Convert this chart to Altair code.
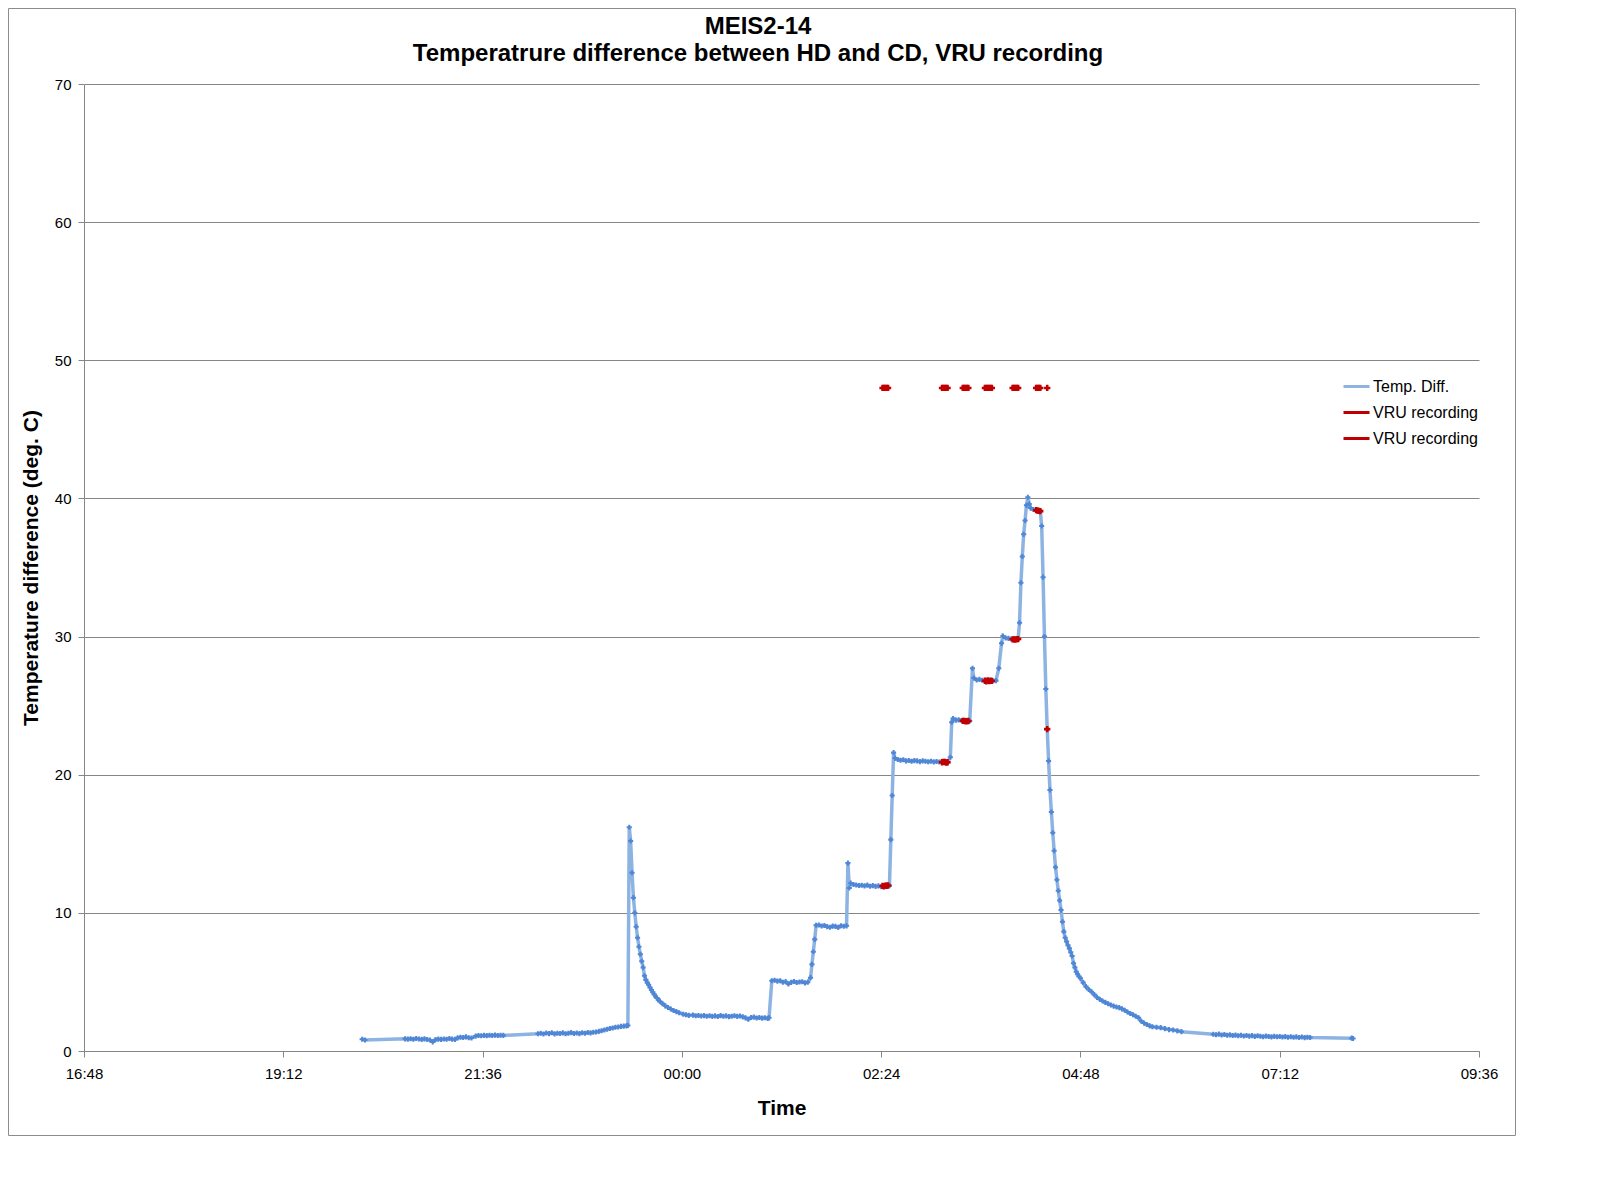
import altair as alt
import pandas as pd

TITLE_1 = "MEIS2-14"
TITLE_2 = "Temperatrure difference between HD and CD, VRU recording"
X_TITLE = "Time"
Y_TITLE = "Temperature difference (deg. C)"
SERIES = ["Temp. Diff.", "VRU recording", "VRU recording "]

X_TICKS = ["16:48", "19:12", "21:36", "00:00", "02:24", "04:48", "07:12", "09:36"]
Y_TICKS = [0, 10, 20, 30, 40, 50, 60, 70]

TEMP_TIMES = [
    "20:09", "20:11",
    "20:40", "20:42", "20:44", "20:46", "20:48", "20:50", "20:52", "20:54", "20:56", "20:58",
    "21:00", "21:02", "21:04", "21:06", "21:08", "21:10", "21:12", "21:14", "21:16", "21:18",
    "21:20", "21:22", "21:24", "21:26", "21:28", "21:31", "21:33", "21:35", "21:37", "21:39",
    "21:41", "21:43", "21:45", "21:47", "21:49", "21:51",
    "22:16", "22:18", "22:20", "22:22", "22:24", "22:26", "22:28", "22:30", "22:32", "22:34",
    "22:36", "22:38", "22:40", "22:42", "22:44", "22:46", "22:48", "22:50", "22:52", "22:54",
    "22:56", "22:58", "23:00", "23:02", "23:04", "23:06", "23:08", "23:10", "23:12", "23:14",
    "23:16", "23:18", "23:20", "23:21",
    "23:22", "23:23", "23:24", "23:25", "23:26", "23:27", "23:28", "23:29", "23:30", "23:31",
    "23:32", "23:33", "23:34", "23:35", "23:36", "23:37", "23:38", "23:39", "23:40", "23:41",
    "23:42", "23:43", "23:44", "23:46", "23:48", "23:50", "23:52", "23:54", "23:56", "23:58",
    "00:01", "00:03", "00:05", "00:08", "00:10", "00:12", "00:14", "00:16", "00:18", "00:20",
    "00:22", "00:24", "00:26", "00:28", "00:30", "00:32", "00:34", "00:36", "00:38", "00:40",
    "00:42", "00:44", "00:46", "00:48", "00:50", "00:52", "00:54", "00:56", "00:58", "01:00",
    "01:02", "01:03",
    "01:05", "01:07", "01:09", "01:11", "01:13", "01:15", "01:17", "01:19", "01:21", "01:23",
    "01:25", "01:27", "01:29", "01:31", "01:33", "01:34", "01:35", "01:36",
    "01:37", "01:39", "01:41", "01:43", "01:45", "01:47", "01:49", "01:51", "01:53", "01:55",
    "01:57", "01:59",
    "02:00", "02:01", "02:02", "02:04", "02:06", "02:08", "02:10", "02:12", "02:14", "02:16",
    "02:18", "02:20", "02:22", "02:24", "02:26", "02:28", "02:30", "02:31", "02:32",
    "02:33", "02:34", "02:36", "02:38", "02:40", "02:42", "02:44", "02:46", "02:48", "02:50",
    "02:52", "02:54", "02:56", "02:58", "03:00", "03:02", "03:04", "03:06", "03:08", "03:10",
    "03:12", "03:14",
    "03:15", "03:16", "03:18", "03:20", "03:22", "03:24", "03:26", "03:28",
    "03:30", "03:31", "03:33", "03:35", "03:37", "03:39", "03:41", "03:43", "03:45", "03:47",
    "03:49", "03:51", "03:52", "03:54", "03:56", "03:58", "04:00", "04:02", "04:03",
    "04:04", "04:05", "04:06", "04:07", "04:08", "04:09", "04:10", "04:11", "04:12", "04:14",
    "04:16", "04:18", "04:19",
    "04:20", "04:21", "04:22", "04:23", "04:24", "04:25", "04:26", "04:27", "04:28", "04:29",
    "04:30", "04:31", "04:32", "04:33", "04:34", "04:35", "04:36", "04:37", "04:38", "04:39",
    "04:40", "04:41", "04:42", "04:43", "04:44", "04:45", "04:46", "04:47", "04:48", "04:50",
    "04:52", "04:54", "04:56", "04:58", "05:00", "05:02", "05:04", "05:06", "05:08", "05:10",
    "05:12", "05:14", "05:16", "05:18", "05:20", "05:22", "05:24", "05:26", "05:28", "05:30",
    "05:32", "05:34", "05:36", "05:38", "05:40", "05:43", "05:46", "05:49", "05:52", "05:55",
    "05:58", "06:01",
    "06:24", "06:26", "06:28", "06:30", "06:32", "06:34", "06:36", "06:38", "06:40", "06:42",
    "06:44", "06:46", "06:48", "06:50", "06:52", "06:54", "06:56", "06:58", "07:00", "07:02",
    "07:04", "07:06", "07:08", "07:10", "07:12", "07:14", "07:16", "07:18", "07:20", "07:22",
    "07:24", "07:26", "07:28", "07:30", "07:32", "07:34",
    "08:04", "08:05",
]

TEMP_VALUES = [
    0.85, 0.80,
    0.88, 0.86, 0.89, 0.85, 0.90, 0.87, 0.84, 0.88, 0.83, 0.80,
    0.66, 0.82, 0.86, 0.84, 0.87, 0.85, 0.90, 0.86, 0.84, 0.95,
    1.00, 0.98, 1.02, 0.96, 0.94, 1.08, 1.12, 1.10, 1.13, 1.11,
    1.14, 1.12, 1.15, 1.12, 1.14, 1.13,
    1.25, 1.28, 1.23, 1.30, 1.26, 1.32, 1.24, 1.29, 1.27, 1.31,
    1.25, 1.28, 1.33, 1.27, 1.30, 1.26, 1.32, 1.29, 1.34, 1.31,
    1.36, 1.38, 1.42, 1.47, 1.52, 1.57, 1.63, 1.66, 1.72, 1.74,
    1.78, 1.80, 1.82, 1.85,
    16.2, 15.2, 12.9, 11.1, 10.0, 9.0, 8.2, 7.55, 7.0, 6.5,
    6.05, 5.45, 5.15, 4.95, 4.8, 4.6, 4.42, 4.25, 4.1, 3.95,
    3.83, 3.72, 3.6, 3.43, 3.27, 3.15, 3.04, 2.93, 2.85, 2.77,
    2.66, 2.62, 2.58, 2.60, 2.55, 2.57, 2.53, 2.56, 2.52, 2.55,
    2.51, 2.54, 2.50, 2.56, 2.52, 2.54, 2.49, 2.52, 2.55, 2.51,
    2.53, 2.47, 2.40, 2.30, 2.42, 2.45, 2.39, 2.43, 2.38, 2.41,
    2.36, 2.40,
    5.09, 5.12, 5.06, 5.08, 4.98, 5.02, 4.85, 4.97, 5.03, 4.96,
    4.99, 5.01, 4.93, 4.98, 5.31, 6.27, 7.19, 8.08,
    9.10, 9.12, 9.05, 9.08, 9.00, 8.96, 9.04, 9.02, 8.95, 9.07,
    9.03, 9.06,
    13.6, 11.8, 12.15, 12.05, 12.02, 11.98, 12.0, 11.95, 12.01, 11.93,
    11.97, 11.92, 11.95, 11.9, 11.92, 11.96, 11.97, 15.3, 18.5,
    21.6, 21.2, 21.1, 21.05, 21.08, 21.0, 21.03, 20.98, 21.02, 21.0,
    20.95, 21.0, 20.97, 20.94, 20.98, 20.93, 20.96, 20.92, 20.9, 20.92,
    20.9, 21.26,
    23.8, 24.06, 23.95, 23.97, 23.92, 23.9, 23.88, 23.89,
    27.7, 27.0, 26.86, 26.9, 26.84, 26.8, 26.82, 26.78, 26.8, 26.81,
    27.7, 29.51, 30.04, 29.9, 29.87, 29.82, 29.8, 29.8, 29.82,
    31.0, 33.9, 35.8, 37.4, 38.4, 39.5, 40.08, 39.6, 39.3, 39.2,
    39.15, 39.1, 39.08,
    38.0, 34.3, 30.0, 26.2, 23.3, 21.0, 18.9, 17.3, 15.8, 14.5,
    13.3, 12.4, 11.6, 10.9, 10.2, 9.36, 8.64, 8.2, 7.92, 7.65,
    7.43, 7.15, 6.88, 6.35, 6.05, 5.74, 5.55, 5.4, 5.26, 4.95,
    4.66, 4.45, 4.29, 4.08, 3.88, 3.74, 3.62, 3.52, 3.42, 3.33,
    3.25, 3.19, 3.14, 3.05, 2.95, 2.82, 2.72, 2.62, 2.52, 2.40,
    2.15, 2.02, 1.92, 1.82, 1.76, 1.72, 1.69, 1.62, 1.55, 1.52,
    1.46, 1.40,
    1.21, 1.18, 1.22, 1.16, 1.19, 1.14, 1.17, 1.12, 1.15, 1.10,
    1.14, 1.09, 1.12, 1.08, 1.11, 1.06, 1.10, 1.07, 1.03, 1.08,
    1.05, 1.02, 1.06, 1.03, 1.05, 1.01, 1.04, 1.00, 1.03, 0.99,
    1.02, 0.98, 1.01, 0.97, 1.00, 0.98,
    0.93, 0.91,
]

# VRU recording points on the temperature curve (one group per recording)
VRU_TIMES = [
    "02:25", "02:26", "02:27", "02:28", "02:29",
    "03:08", "03:09", "03:10", "03:11", "03:12",
    "03:23", "03:24", "03:25", "03:26", "03:27",
    "03:39", "03:40", "03:41", "03:42", "03:43", "03:44",
    "03:59", "04:00", "04:01", "04:02", "04:03",
    "04:16", "04:17", "04:18", "04:19",
    "04:24",
]
VRU_VALUES = [
    11.95, 11.92, 11.97, 11.96, 11.98,
    20.9, 20.93, 20.92, 20.88, 20.9,
    23.9, 23.9, 23.87, 23.88, 23.89,
    26.8, 26.76, 26.82, 26.78, 26.8, 26.79,
    29.8, 29.8, 29.78, 29.81, 29.82,
    39.15, 39.12, 39.1, 39.08,
    23.3,
]
VRU_GROUP = [
    1, 1, 1, 1, 1,
    2, 2, 2, 2, 2,
    3, 3, 3, 3, 3,
    4, 4, 4, 4, 4, 4,
    5, 5, 5, 5, 5,
    6, 6, 6, 6,
    7,
]

# VRU recording markers drawn at the 48 level
VRU_TOP_TIMES = [
    "02:25", "02:26", "02:27", "02:28", "02:29",
    "03:08", "03:09", "03:10", "03:11", "03:12",
    "03:23", "03:24", "03:25", "03:26", "03:27",
    "03:39", "03:40", "03:41", "03:42", "03:43", "03:44",
    "03:59", "04:00", "04:01", "04:02", "04:03",
    "04:16", "04:17", "04:18", "04:19",
    "04:24",
]
VRU_TOP_VALUES = [
    48, 48, 48, 48, 48,
    48, 48, 48, 48, 48,
    48, 48, 48, 48, 48,
    48, 48, 48, 48, 48, 48,
    48, 48, 48, 48, 48,
    48, 48, 48, 48,
    48,
]

BLUE_LINE = "#8DB3E2"
BLUE_MARK = "#4F86D6"
RED = "#C00000"
GRID = "#868686"
FONT = "Liberation Sans"


def to_dt(s):
    h, m = (int(p) for p in s.split(":"))
    day = 1 if h >= 12 else 2
    return pd.Timestamp(2012, 1, day, h, m)


def to_datetime_obj(s):
    h, m = (int(p) for p in s.split(":"))
    day = 1 if h >= 12 else 2
    return alt.DateTime(year=2012, month=1, date=day, hours=h, minutes=m)


temp_df = pd.DataFrame({
    "time": [to_dt(t) for t in TEMP_TIMES],
    "value": TEMP_VALUES,
    "series": SERIES[0],
})
vru_df = pd.DataFrame({
    "time": [to_dt(t) for t in VRU_TIMES],
    "value": VRU_VALUES,
    "grp": VRU_GROUP,
    "series": SERIES[1],
})
top_df = pd.DataFrame({
    "time": [to_dt(t) for t in VRU_TOP_TIMES],
    "value": VRU_TOP_VALUES,
    "grp": VRU_GROUP,
    "series": SERIES[2],
})

W, H = 1395, 967

x_enc = alt.X(
    "time:T",
    scale=alt.Scale(domain=[to_datetime_obj(X_TICKS[0]), to_datetime_obj(X_TICKS[-1])]),
    axis=alt.Axis(
        values=[to_datetime_obj(t) for t in X_TICKS],
        format="%H:%M",
        title=X_TITLE,
        grid=False,
        titleY=57,
        titleBaseline="middle",
        labelFlush=False,
        labelOverlap=False,
        labelPadding=9,
        labelFont=FONT,
        labelFontSize=15,
        labelColor="#000000",
        titleFont=FONT,
        titleFontSize=21,
        titleFontWeight="bold",
        titleColor="#000000",
        domainColor=GRID,
        tickColor=GRID,
        tickSize=6,
    ),
)
y_enc = alt.Y(
    "value:Q",
    scale=alt.Scale(domain=[0, 70], nice=False),
    axis=alt.Axis(
        values=Y_TICKS,
        title=Y_TITLE,
        grid=True,
        gridColor=GRID,
        gridOpacity=1,
        titleX=-53,
        titleBaseline="middle",
        labelPadding=7,
        labelFlush=False,
        labelOverlap=False,
        labelFont=FONT,
        labelFontSize=15,
        labelColor="#000000",
        titleFont=FONT,
        titleFontSize=21,
        titleFontWeight="bold",
        titleColor="#000000",
        domainColor=GRID,
        tickColor=GRID,
        tickSize=6,
    ),
)
color_enc = alt.Color(
    "series:N",
    scale=alt.Scale(domain=SERIES, range=[BLUE_LINE, RED, RED]),
    legend=alt.Legend(
        title=None,
        orient="none",
        legendX=1258,
        legendY=288,
        symbolType="stroke",
        symbolSize=676,
        symbolStrokeWidth=3,
        labelFontSize=16,
        labelFont=FONT,
        labelColor="#000000",
        labelOffset=2,
        rowPadding=3,
        padding=0,
    ),
)

blue_line = alt.Chart(temp_df).mark_line(strokeWidth=3.5).encode(
    x=x_enc, y=y_enc, color=color_enc
)
blue_pts = alt.Chart(temp_df).mark_point(
    shape="cross", filled=True, size=26, color=BLUE_MARK, opacity=1
).encode(x=x_enc, y=y_enc)

red_line = alt.Chart(vru_df).mark_line(strokeWidth=3.5).encode(
    x=x_enc, y=y_enc, color=color_enc, detail="grp:N"
)
red_pts = alt.Chart(vru_df).mark_point(
    shape="cross", filled=True, size=40, color=RED, opacity=1
).encode(x=x_enc, y=y_enc)

top_line = alt.Chart(top_df).mark_line(strokeWidth=3.5).encode(
    x=x_enc, y=y_enc, color=color_enc, detail="grp:N"
)
top_pts = alt.Chart(top_df).mark_point(
    shape="cross", filled=True, size=40, color=RED, opacity=1
).encode(x=x_enc, y=y_enc)

one = pd.DataFrame({"k": [0]})
frame = alt.Chart(one).mark_rect(
    fill="transparent", stroke="#8C8C8C", strokeWidth=1
).encode(
    x=alt.value(-75.5), x2=alt.value(1431.5), y=alt.value(-75.5), y2=alt.value(1051.5)
)
title1 = alt.Chart(one).mark_text(
    font=FONT, fontSize=24, fontWeight="bold", align="center", baseline="middle", color="#000000"
).encode(x=alt.value(674), y=alt.value(-57), text=alt.value(TITLE_1))
title2 = alt.Chart(one).mark_text(
    font=FONT, fontSize=24, fontWeight="bold", align="center", baseline="middle", color="#000000"
).encode(x=alt.value(674), y=alt.value(-30), text=alt.value(TITLE_2))

chart = alt.layer(
    frame, title1, title2,
    blue_line, blue_pts, red_line, red_pts, top_line, top_pts,
).properties(
    width=W,
    height=H,
    autosize=alt.AutoSizeParams(type="none"),
    padding={"left": 76, "top": 76, "right": 40, "bottom": 90},
    background="white",
).configure_view(
    stroke=None
)

chart.save("out.html", embed_options={"renderer": "svg", "actions": False})
